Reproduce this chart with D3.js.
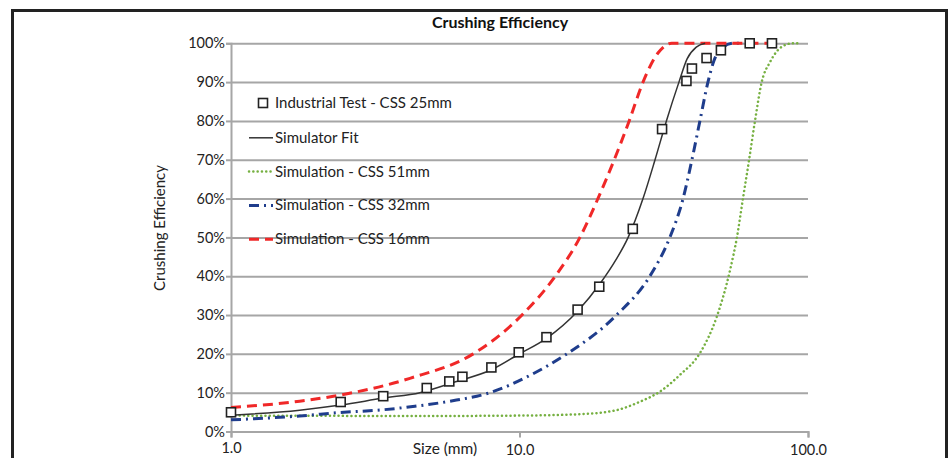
<!DOCTYPE html>
<html>
<head>
<meta charset="utf-8">
<script src="https://cdn.jsdelivr.net/npm/d3@7"></script>
<style>
  html, body { margin: 0; padding: 0; background: #fff; }
  svg { display: block; font-family: Lato, "Open Sans", sans-serif; }
</style>
</head>
<body>
<div id="chart"></div>
<script>
// values (size in mm, efficiency in %)
const testSize = [1.0, 2.40, 3.37, 4.77, 5.71, 6.34, 7.99, 9.94, 12.4, 15.9, 18.9, 24.7, 31.2, 37.9, 39.6, 44.5, 49.9, 62.8, 75.0];
const testPct = [4.95, 7.6, 9.1, 11.2, 12.9, 14.1, 16.5, 20.4, 24.3, 31.4, 37.3, 52.2, 77.9, 90.3, 93.5, 96.2, 98.2, 100, 100];

const fitSize = [1.0, 1.73, 2.40, 3.37, 4.52, 6.0, 7.99, 9.94, 12.4, 15.9, 19.2, 21.5, 23.8, 26.8, 29.5, 32.3, 35.7, 38.1, 41.0, 44.0];
const fitPct = [4.2, 5.5, 6.8, 8.6, 10.0, 12.8, 15.9, 19.9, 24.0, 31.0, 38.5, 44, 50, 60, 70, 80, 90, 96, 99, 100];

const css51Size = [1.0, 5.0, 10.0, 16.6, 21.7, 26.2, 30.7, 36.0, 42.2, 48.3, 53.7, 56.7, 59.5, 62.5, 65.5, 69.1, 73.9, 81.1, 88.8, 94.0];
const css51Pct = [4.1, 4.0, 4.1, 4.5, 5.5, 7.7, 10.3, 14.6, 20.2, 29.6, 41.6, 50, 60, 70, 80, 90, 95.2, 99.1, 100, 100];

const css32Size = [1.0, 1.73, 2.40, 3.37, 4.34, 5.74, 7.9, 10.9, 14.6, 21.7, 28.3, 33.2, 36.9, 39.6, 42.2, 45.0, 47.2, 50.3, 55.0, 60.0];
const css32Pct = [3.0, 4.0, 4.9, 5.6, 6.5, 7.8, 10, 14.5, 20, 30, 40, 50, 60, 70, 80, 90, 95.5, 98.8, 100, 100];

const css16Size = [1.0, 1.73, 2.40, 4.17, 6.91, 10.2, 13.3, 16.2, 18.7, 21.3, 24.0, 26.8, 30.2, 33.7, 75.0];
const css16Pct = [6.2, 7.8, 9.4, 13.7, 20, 30, 40, 50, 60, 70, 80, 90, 97.5, 100, 100];

const xTicks = [1, 10, 100];
const yTicks = [0, 10, 20, 30, 40, 50, 60, 70, 80, 90, 100];

const seriesNames = ['Simulator Fit', 'Simulation - CSS 51mm', 'Simulation - CSS 32mm', 'Simulation - CSS 16mm'];
const markerName = 'Industrial Test - CSS 25mm';

const width = 950, height = 458;
const svg = d3.select('#chart').append('svg')
  .attr('width', width)
  .attr('height', height);

// frame
svg.append('rect')
  .attr('x', 12.5).attr('y', 10.5)
  .attr('width', 934).attr('height', 470)
  .attr('fill', 'none')
  .attr('stroke', '#222')
  .attr('stroke-width', 3);

const x = d3.scaleLog().domain([1, 100]).range([231, 808]);
const y = d3.scaleLinear().domain([0, 100]).range([431.5, 43.3]);

const grid = '#a6a6a6';

// gridlines
svg.append('g')
  .attr('transform', `translate(${x(1)},0)`)
  .call(d3.axisLeft(y).tickValues(yTicks).tickSize(-(x(100) - x(1))).tickFormat(''))
  .call(g => g.select('.domain').remove())
  .call(g => g.selectAll('line').attr('stroke', grid).attr('stroke-width', 2));

// y axis
svg.append('g')
  .attr('transform', `translate(${x(1)},0)`)
  .call(d3.axisLeft(y).tickValues(yTicks).tickSize(5).tickPadding(1).tickFormat(d => d + '%'))
  .call(g => g.select('.domain').attr('stroke', grid).attr('stroke-width', 2))
  .call(g => g.selectAll('line').attr('stroke', grid).attr('stroke-width', 2))
  .call(g => g.selectAll('text')
    .attr('fill', '#222')
    .style('font-size', '14.5px')
    .style('font-family', 'Lato, sans-serif'));

// x axis
svg.append('g')
  .attr('transform', `translate(0,${y(0)})`)
  .call(d3.axisBottom(x).tickValues(xTicks).tickSize(6).tickFormat(d3.format('.1f')))
  .call(g => g.select('.domain').attr('stroke', grid).attr('stroke-width', 2))
  .call(g => g.selectAll('line').attr('stroke', grid).attr('stroke-width', 2))
  .call(g => g.selectAll('text')
    .attr('fill', '#222')
    .attr('dy', null)
    .attr('y', (d, i) => i === 0 ? 21.5 : 23)
    .style('font-size', '14.5px')
    .style('font-family', 'Lato, sans-serif'));

// titles
svg.append('text')
  .attr('x', 500).attr('y', 28)
  .attr('text-anchor', 'middle')
  .attr('fill', '#111')
  .style('font-weight', 'bold')
  .style('font-size', '16px')
  .text('Crushing Efficiency');

svg.append('text')
  .attr('transform', 'translate(165,228) rotate(-90)')
  .attr('text-anchor', 'middle')
  .attr('fill', '#222')
  .style('font-size', '15px')
  .text('Crushing Efficiency');

svg.append('text')
  .attr('x', 445).attr('y', 454)
  .attr('text-anchor', 'middle')
  .attr('fill', '#222')
  .style('font-size', '15.5px')
  .text('Size (mm)');

// curves
const styles = [
  { color: '#333', width: 1.5, dash: null, cap: 'butt' },
  { color: '#76b041', width: 2.5, dash: '0.1,4.2', cap: 'round' },
  { color: '#1f3d8c', width: 3, dash: '10,5,2,5', cap: 'butt' },
  { color: '#f02828', width: 3, dash: '10,6', cap: 'butt' }
];
const curves = [
  d3.zip(fitSize, fitPct),
  d3.zip(css51Size, css51Pct),
  d3.zip(css32Size, css32Pct),
  d3.zip(css16Size, css16Pct)
];

const line = d3.line()
  .x(d => x(d[0]))
  .y(d => y(d[1]))
  .curve(d3.curveMonotoneX);

const drawOrder = [1, 2, 3, 0];
drawOrder.forEach(i => {
  svg.append('path')
    .datum(curves[i])
    .attr('d', line)
    .attr('fill', 'none')
    .attr('stroke', styles[i].color)
    .attr('stroke-width', styles[i].width)
    .attr('stroke-dasharray', styles[i].dash)
    .attr('stroke-linecap', styles[i].cap);
});

// markers
svg.append('g')
  .selectAll('rect')
  .data(d3.zip(testSize, testPct))
  .join('rect')
  .attr('x', d => x(d[0]) - 4.5)
  .attr('y', d => y(d[1]) - 4.5)
  .attr('width', 9).attr('height', 9)
  .attr('fill', '#fff')
  .attr('stroke', '#222')
  .attr('stroke-width', 1.6);

// legend
const legend = svg.append('g').attr('transform', 'translate(249,103)');
const rowH = 33.8;

legend.append('rect')
  .attr('x', 9.5).attr('y', -4.5)
  .attr('width', 9).attr('height', 9)
  .attr('fill', '#fff')
  .attr('stroke', '#222')
  .attr('stroke-width', 1.6);
legend.append('text')
  .attr('x', 26).attr('y', 5)
  .attr('fill', '#222')
  .style('font-size', '15px')
  .text(markerName);

seriesNames.forEach((name, i) => {
  const row = legend.append('g').attr('transform', `translate(0,${(i + 1) * rowH + 1})`);
  row.append('line')
    .attr('x1', 0).attr('x2', 24)
    .attr('stroke', styles[i].color)
    .attr('stroke-width', styles[i].width)
    .attr('stroke-dasharray', styles[i].dash)
    .attr('stroke-linecap', styles[i].cap);
  row.append('text')
    .attr('x', 26).attr('y', 5)
    .attr('fill', '#222')
    .style('font-size', '15px')
    .text(name);
});
</script>
</body>
</html>
